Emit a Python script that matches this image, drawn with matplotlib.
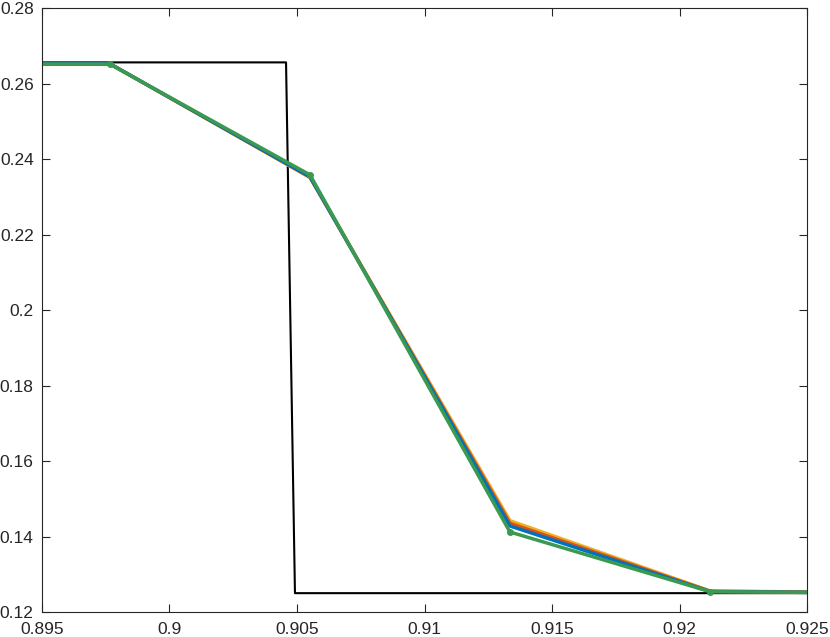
import matplotlib
matplotlib.use("Agg")
import matplotlib.pyplot as plt
import numpy as np

plt.rcParams['font.family'] = ['Liberation Sans', 'DejaVu Sans']

# exact solution
x_exact = [0.895, 0.90457, 0.90492, 0.925]
y_exact = [0.2656, 0.2656, 0.1250, 0.1250]

# numerical solutions (cell centres, first and last lie outside the view)
x_num = [0.88983, 0.89767, 0.90551, 0.91335, 0.9212, 0.92904]
y_blue = [0.2653, 0.2652, 0.2353, 0.1428, 0.1254, 0.1250]
y_orange = [0.2653, 0.2652, 0.2352, 0.1435, 0.1255, 0.1250]
y_yellow = [0.2653, 0.2652, 0.2351, 0.1442, 0.1256, 0.1250]
y_green = [0.2653, 0.2651, 0.2358, 0.1412, 0.1254, 0.1250]

colors = {
    'blue': (0, 0.447, 0.741),
    'orange': (0.85, 0.325, 0.098),
    'yellow': (0.929, 0.694, 0.125),
    'green': '#3a9a4f',
}

fig = plt.figure(figsize=(8.3, 6.37), dpi=100)
ax = fig.add_axes([0.0506, 0.0392, 0.9217, 0.9482])

ax.plot(x_exact, y_exact, color='k', lw=1.5)
ax.plot(x_num, y_yellow, color=colors['yellow'], lw=2.5)
ax.plot(x_num, y_orange, color=colors['orange'], lw=2.5)
ax.plot(x_num, y_blue, color=colors['blue'], lw=2.5)
ax.plot(x_num, y_green, color=colors['green'], lw=2.5, marker='o', ms=4)

ax.set_xlim(0.895, 0.925)
ax.set_ylim(0.12, 0.28)
xt = [0.895, 0.9, 0.905, 0.91, 0.915, 0.92, 0.925]
yt = [0.12, 0.14, 0.16, 0.18, 0.2, 0.22, 0.24, 0.26, 0.28]
ax.set_xticks(xt)
ax.set_xticklabels(['0.895', '0.9', '0.905', '0.91', '0.915', '0.92', '0.925'])
ax.set_yticks(yt)
ax.set_yticklabels(['0.12', '0.14', '0.16', '0.18', '0.2', '0.22', '0.24', '0.26', '0.28'])
ax.tick_params(direction='in', top=True, right=True, length=6, width=0.8,
               labelsize=12.5, color='#262626', labelcolor='#262626')
ax.tick_params(axis='x', pad=7)
ax.tick_params(axis='y', pad=6)
for s in ax.spines.values():
    s.set_linewidth(0.8)
    s.set_color('#262626')

fig.savefig('out.png', dpi=100)
